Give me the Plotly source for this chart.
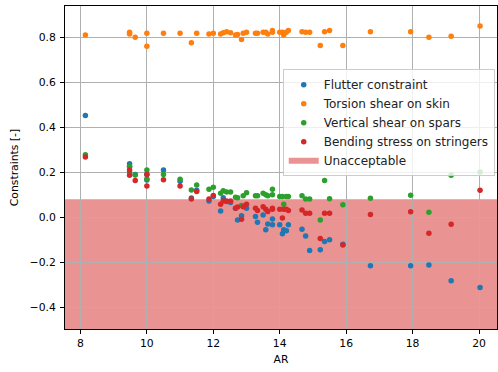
import plotly.graph_objects as go

# Aspect ratio of each design point
AR = [8.15, 9.48, 9.48, 9.65, 10.0, 10.0, 10.5, 11.0, 11.34, 11.5,
      11.87, 12.0, 12.22, 12.3, 12.4, 12.52, 12.67, 12.73, 12.85, 12.9,
      13.0, 13.27, 13.33, 13.5, 13.58, 13.64, 13.78, 13.78, 14.0, 14.08,
      14.12, 14.2, 14.26, 14.67, 14.78, 14.9, 15.22, 15.35, 15.5, 15.9,
      16.73, 17.94, 18.49, 19.16, 20.03]

flutter = [0.452, 0.238, 0.225, 0.19, 0.19, 0.165, 0.21, 0.16, 0.085, 0.12,
           0.072, 0.092, 0.028, 0.087, 0.07, 0.065, 0.04, -0.012, 0.006, 0.05,
           0.04, 0.003, -0.022, 0.01, -0.056, -0.03, -0.008, -0.034, -0.034, -0.074,
           -0.056, -0.06, -0.034, -0.053, -0.083, -0.148, -0.145, -0.108, -0.10, -0.12,
           -0.216, -0.216, -0.212, -0.282, -0.313]

torsion = [0.81, 0.822, 0.815, 0.80, 0.818, 0.76, 0.818, 0.818, 0.776, 0.818,
           0.815, 0.818, 0.815, 0.82, 0.825, 0.82, 0.81, 0.812, 0.79, 0.818,
           0.822, 0.818, 0.818, 0.822, 0.822, 0.815, 0.83, 0.822, 0.822, 0.822,
           0.81, 0.822, 0.83, 0.825, 0.822, 0.822, 0.763, 0.825, 0.83, 0.763,
           0.825, 0.825, 0.80, 0.805, 0.85]

vertical = [0.278, 0.226, 0.20, 0.188, 0.21, 0.17, 0.19, 0.169, 0.121, 0.143,
            0.124, 0.133, 0.107, 0.118, 0.112, 0.112, 0.089, 0.087, 0.052, 0.095,
            0.109, 0.095, 0.095, 0.107, 0.10, 0.095, 0.124, 0.10, 0.092, 0.092,
            0.058, 0.092, 0.092, 0.095, 0.081, 0.081, -0.012, 0.163, 0.082, 0.055,
            0.084, 0.098, 0.022, 0.187, 0.201]

bending = [0.268, 0.21, 0.187, 0.163, 0.19, 0.139, 0.167, 0.139, 0.081, 0.114,
           0.081, 0.097, 0.058, 0.072, 0.072, 0.072, 0.04, 0.045, -0.009, 0.047,
           0.058, 0.04, 0.03, 0.047, 0.035, 0.025, 0.04, 0.035, 0.035, -0.004,
           0.035, 0.035, 0.03, 0.032, 0.018, 0.018, -0.095, 0.018, 0.018, -0.123,
           0.012, 0.024, -0.071, -0.031, 0.12]

series_names = ["Flutter constraint", "Torsion shear on skin",
                "Vertical shear on spars", "Bending stress on stringers"]
series_colors = ["#1f77b4", "#ff7f0e", "#2ca02c", "#d62728"]

limit_low = -0.5
limit_high = 0.08
x_range = [7.536, 20.54]
y_range = [-0.497, 0.939]
y_ticks = [-0.4, -0.2, 0.0, 0.2, 0.4, 0.6, 0.8]
x_ticks = [8, 10, 12, 14, 16, 18, 20]

FS = 10.8
font_family = "DejaVu Sans"

fig = go.Figure()
for name, vals, col in zip(series_names, [flutter, torsion, vertical, bending], series_colors):
    fig.add_trace(go.Scatter(x=AR, y=vals, mode="markers", name=name,
                             marker=dict(color=col, size=5.5, line=dict(width=0))))

# legend entry for the unacceptable region
fig.add_trace(go.Scatter(x=[None], y=[None], mode="none", fill="toself",
                         fillcolor="rgba(214,39,40,0.5)", name="Unacceptable"))

fig.add_shape(type="rect", xref="x domain", x0=0, x1=1, yref="y",
              y0=limit_low, y1=limit_high, fillcolor="rgba(214,39,40,0.5)",
              line=dict(width=0), layer="below")

axis_common = dict(showline=True, linecolor="black", linewidth=1, mirror=True,
                   showgrid=True, gridcolor="#b0b0b0", gridwidth=0.9,
                   ticks="outside", ticklen=4, tickwidth=0.9, tickcolor="black",
                   zeroline=False, tickfont=dict(size=FS, color="black"))

fig.update_xaxes(range=x_range, tickvals=x_ticks,
                 title=dict(text="AR", font=dict(size=FS, color="black"), standoff=6),
                 **axis_common)
fig.update_yaxes(range=y_range, tickvals=y_ticks, tickformat=".1f", ticklabelstandoff=2,
                 title=dict(text="Constraints [-]", font=dict(size=FS, color="black"), standoff=8),
                 **axis_common)

fig.update_layout(
    width=498, height=372,
    margin=dict(l=65, r=1, t=6, b=43),
    plot_bgcolor="white", paper_bgcolor="white",
    font=dict(family=font_family, size=FS, color="black"),
    legend=dict(x=0.504, y=0.804, xanchor="left", yanchor="top",
                bgcolor="rgba(255,255,255,0.8)", bordercolor="#cccccc", borderwidth=1,
                font=dict(size=12, color="#222222"), tracegroupgap=0),
)

fig.write_html("out.html")
